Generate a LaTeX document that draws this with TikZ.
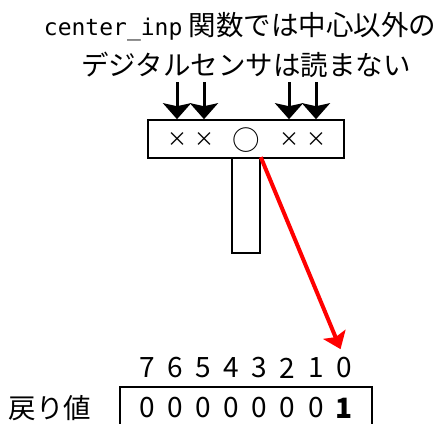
\documentclass[tikz,border=0pt]{standalone}
\usepackage{fontspec}
\setmainfont{Noto Sans CJK JP}
\newfontfamily\codefont{DejaVu Sans Mono}
\usetikzlibrary{
  arrows.meta,
  positioning
}
\definecolor{sensInk}{HTML}{000000}
\definecolor{sensRed}{HTML}{FF0000}
\tikzset{
  every node/.style={font=\fontsize{27.5}{30}\selectfont, text=sensInk, inner sep=0pt},
  frame/.style={
    draw=sensInk,
    line width=1.6pt,
    fill=white
  },
  sensmark/.style={font=\fontsize{20}{24}\selectfont},
  bitnum/.style={font=\fontsize{28}{30}\selectfont},
  sense/.style={
    -{Stealth[length=16pt,width=28pt,inset=3pt]},
    line width=3pt,
    draw=sensInk
  },
  result/.style={
    -{Stealth[length=16pt,width=24pt,inset=3pt]},
    line width=4pt,
    draw=sensRed
  }
}

\begin{document}
\begin{tikzpicture}[x=1pt, y=-1pt]
  \useasboundingbox (0,0) rectangle (446,423);

  \node (line1) at (240,27) {{\codefont\fontsize{23}{30}\selectfont center\_inp} 関数では中心以外の};
  \node (line2) at (246,65) {デジタルセンサは読まない};

  % sensor bar and stem
  \node[frame, minimum width=28pt, minimum height=95pt] (stem) at (246,205.5) {};
  \node[frame, minimum width=196pt, minimum height=38pt] (sensor) at (246,139) {};

  \foreach \x/\name in {177/m6, 204/m5, 289/m2, 316/m1}
    \node[sensmark] (\name) at (\x,140) {×};
  \node[font=\fontsize{27.5}{30}\selectfont] (mc) at (246,140) {○};

  \foreach \n in {m6,m5,m2,m1} {
    \coordinate (\n top) at (\n |- 0,82);
    \draw[sense] (\n top) -- (\n |- sensor.north);
  }

  % return value
  \foreach \b [count=\k from 0] in {7,6,5,4,3,2,1,0}
    \node[bitnum] (bit\b) at ({147+28.14*\k},368) {\b};

  \node[frame, minimum width=252pt, minimum height=43pt] (retbox) at (246,408.5) {};
  \foreach \b in {7,6,5,4,3,2,1}
    \node[bitnum] (val\b) at (bit\b |- 0,408) {0};
  \node[bitnum, font=\fontsize{28}{30}\selectfont\bfseries] (val0) at (bit0 |- 0,408) {1};

  \node (retlabel) at (50,408) {戻り値};

  \draw[result, shorten >=9pt] (stem.north east) -- (bit0.north);
\end{tikzpicture}
\end{document}
